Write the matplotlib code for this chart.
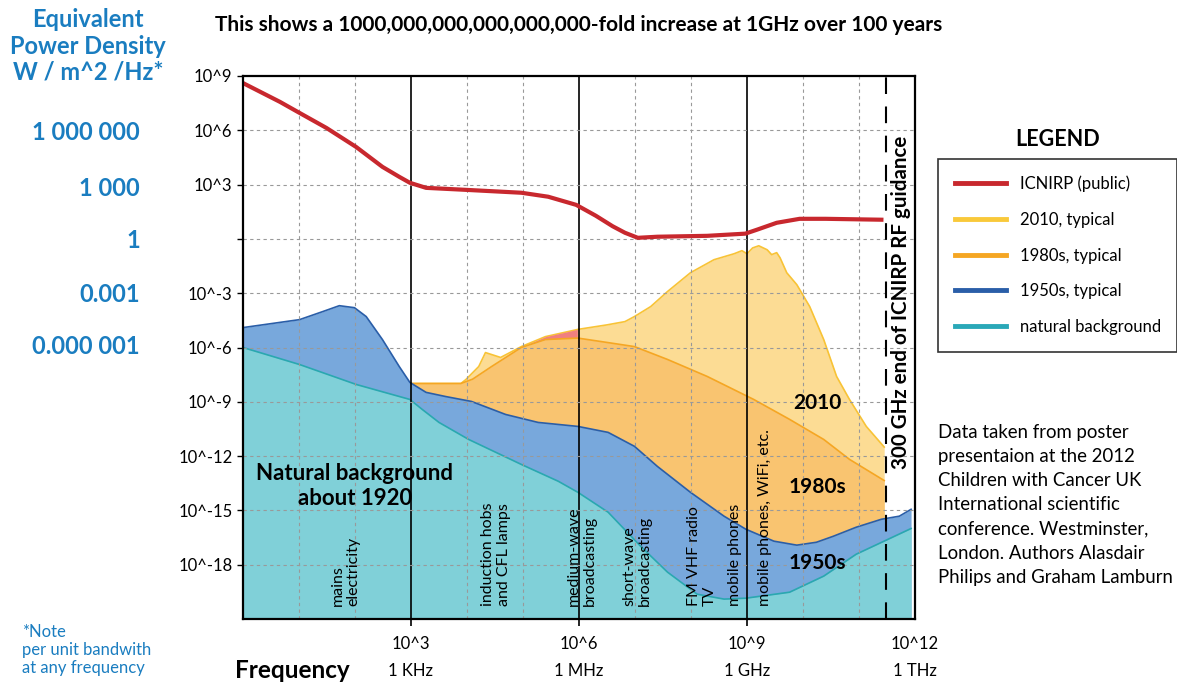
import numpy as np
import matplotlib
matplotlib.use("Agg")
import matplotlib.pyplot as plt
from matplotlib.lines import Line2D
from matplotlib.transforms import blended_transform_factory

plt.rcParams['font.family'] = ['Lato', 'DejaVu Sans']

# values are log10 of frequency (Hz) and log10 of power density (W/m^2/Hz)
icnirp_x = [0, 0.66, 1.01, 1.49, 2.02, 2.49, 2.79, 2.98, 3.27, 3.98, 4.97, 5.45, 5.95, 6.3,
            6.6, 6.82, 7.05, 7.4, 8.29, 8.97, 9.18, 9.53, 9.94, 10.4, 11.4]
icnirp_y = [8.61, 7.57, 6.96, 6.13, 5.08, 3.98, 3.43, 3.1, 2.82, 2.71, 2.55, 2.33, 1.88, 1.28,
            0.7, 0.34, 0.06, 0.12, 0.17, 0.29, 0.51, 0.89, 1.11, 1.11, 1.06]

y2010_x = [2.98, 3.89, 3.98, 4.21, 4.33, 4.45, 4.6, 4.97, 5.4, 5.98, 6.5, 6.82, 6.99, 7.28, 7.58,
           7.99, 8.41, 8.77, 8.91, 9.0, 9.1, 9.21, 9.36, 9.44, 9.53, 9.59, 9.71, 9.89, 10.12,
           10.37, 10.6, 10.83, 11.13, 11.45]
y2010_y = [-7.99, -7.99, -7.77, -7.05, -6.28, -6.4, -6.55, -5.95, -5.4, -5.0, -4.75, -4.57, -4.29,
           -3.74, -2.91, -1.87, -1.15, -0.82, -0.65, -0.82, -0.5, -0.38, -0.6, -0.87, -0.76, -1.04,
           -1.87, -2.53, -3.74, -5.56, -7.6, -8.87, -10.36, -11.5]

y1980_x = [2.98, 3.89, 4.1, 4.44, 4.97, 5.4, 5.98, 6.52, 6.99, 7.58, 8.29, 9.12, 9.76, 10.37, 10.83, 11.45]
y1980_y = [-7.99, -7.99, -7.75, -7.05, -6.0, -5.56, -5.48, -5.73, -5.95, -6.66, -7.6, -8.87, -9.97,
           -11.08, -12.18, -13.35]

y1950_x = [0, 1.01, 1.42, 1.72, 1.99, 2.2, 2.49, 2.79, 2.98, 3.27, 3.62, 4.08, 4.69, 5.27, 5.98,
           6.52, 6.99, 7.4, 7.99, 8.59, 8.98, 9.48, 9.89, 10.24, 10.54, 10.95, 11.4, 11.72, 11.93]
y1950_y = [-4.9, -4.46, -4.02, -3.69, -3.8, -4.29, -5.56, -7.05, -7.93, -8.48, -8.71, -8.98, -9.7,
           -10.14, -10.36, -10.69, -11.46, -12.57, -14.0, -15.32, -16.04, -16.7, -16.92, -16.76,
           -16.43, -15.93, -15.49, -15.32, -14.94]

natural_x = [0, 1.01, 2.02, 2.98, 3.2, 3.5, 4.03, 4.97, 5.63, 5.98, 6.52, 7.1, 7.58, 8.11, 8.59,
             8.98, 9.76, 10.37, 10.95, 11.93]
natural_y = [-6.0, -6.94, -8.04, -8.87, -9.42, -10.14, -11.08, -12.46, -13.39, -14.0, -15.1, -16.98,
             -18.41, -19.63, -19.9, -19.85, -19.52, -18.63, -17.42, -16.0]

ytick_exp = [9, 6, 3, 0, -3, -6, -9, -12, -15, -18]
ytick_labels = ['10^9', '10^6', '10^3', '', '10^-3', '10^-6', '10^-9', '10^-12', '10^-15', '10^-18']
xtick_exp = [3, 6, 9, 12]
xtick_labels = ['10^3', '10^6', '10^9', '10^12']
xunit_labels = ['1 KHz', '1 MHz', '1 GHz', '1 THz']
blue_values = ['1 000 000', '1 000', '1', '0.001', '0.000 001']

W, H = 1177, 683
def fx(px):
    return px / W
def fy(py):
    return 1 - py / H

def p(a):
    return 10.0 ** np.array(a, dtype=float)

blue = '#1a7dc0'
fig = plt.figure(figsize=(11.77, 6.83), dpi=100)
ax = fig.add_axes([fx(243), fy(619), (915 - 243) / W, (619 - 76) / H])
ax.set_xscale('log')
ax.set_yscale('log')

bottom = 1e-21
# 2010 area (back)
ax.fill_between(p(y2010_x), p(y2010_y), bottom, color='#fcdc94', zorder=1, lw=0)
ax.plot(p(y2010_x), p(y2010_y), color='#f8c336', lw=1.2, zorder=1.1)
# pinkish overlap patch
ax.fill_between(p([5.1, 5.4, 5.97]), p([-5.8, -5.4, -5.0]), p([-5.85, -5.56, -5.48]),
                color='#f08080', lw=0, zorder=1.2)
# 1980s
ax.fill_between(p(y1980_x), p(y1980_y), bottom, color='#f9c470', zorder=2, lw=0)
ax.plot(p(y1980_x), p(y1980_y), color='#f5a623', lw=1.2, zorder=2.1)
# 1950s
ax.fill_between(p(y1950_x), p(y1950_y), bottom, color='#78a8dc', zorder=3, lw=0)
ax.plot(p(y1950_x), p(y1950_y), color='#2a5ea8', lw=1.2, zorder=3.1)
# natural background
ax.fill_between(p(natural_x), p(natural_y), bottom, color='#80d0d8', zorder=4, lw=0)
ax.plot(p(natural_x), p(natural_y), color='#2aa8b0', lw=1.2, zorder=4.1)
# ICNIRP
ax.plot(p(icnirp_x), p(icnirp_y), color='#c8282e', lw=3, zorder=6, solid_joinstyle='round')

# grid
for e in range(1, 12):
    if e in (3, 6, 9):
        ax.axvline(10.0 ** e, color='black', lw=1.2, zorder=5)
    else:
        ax.axvline(10.0 ** e, color='#999999', lw=0.8, ls=(0, (3, 3)), zorder=5)
for e in range(-18, 9, 3):
    ax.axhline(10.0 ** e, color='#999999', lw=0.8, ls=(0, (3, 3)), zorder=5)
ax.axvline(3e11, color='black', lw=1.5, ls=(0, (8, 6)), zorder=5)

ax.set_xlim(1, 1e12)
ax.set_ylim(1e-21, 1e9)
ax.minorticks_off()
ax.set_yticks(p(ytick_exp))
ax.set_yticklabels(ytick_labels, fontsize=12)
ax.tick_params(axis='y', length=4.5, width=1, pad=3)
ax.set_xticks(p(xtick_exp))
ax.set_xticklabels(xtick_labels, fontsize=12)
ax.tick_params(axis='x', length=5, width=1.2, pad=7)
ax.xaxis.get_major_ticks()[3].tick1line.set_visible(False)
for s in ax.spines.values():
    s.set_linewidth(1.6)
    s.set_zorder(7)

# unit labels under ticks
tr = blended_transform_factory(ax.transData, fig.transFigure)
for e, lab in zip(xtick_exp, xunit_labels):
    ax.text(10.0 ** e, fy(671), lab, transform=tr, ha='center', va='center', fontsize=12)

# in-plot annotations
fig.text(fx(355), fy(486), 'Natural background\nabout 1920', ha='center', va='center',
         fontsize=16, fontweight='bold', linespacing=1.2)
fig.text(fx(817), fy(403), '2010', ha='center', va='center', fontsize=15, fontweight='bold')
fig.text(fx(817), fy(487), '1980s', ha='center', va='center', fontsize=15, fontweight='bold')
fig.text(fx(817), fy(563), '1950s', ha='center', va='center', fontsize=15, fontweight='bold')
fig.text(fx(901), fy(302), '300 GHz end of ICNIRP RF guidance', rotation=90, ha='center', va='center',
         fontsize=14.8, fontweight='bold')

band_labels = [(346, 'mains\nelectricity'), (496, 'induction hobs\nand CFL lamps'),
               (582, 'medium-wave\nbroadcasting'), (637, 'short-wave\nbroadcasting'),
               (702, 'FM VHF radio\nTV'), (735, 'mobile phones'), (765, 'mobile phones, WiFi, etc.')]
for x, lab in band_labels:
    fig.text(fx(x), fy(606), lab, rotation=90, ha='center', va='bottom', multialignment='left',
             fontsize=11.5, linespacing=1.15, zorder=8)

# title and side texts
fig.text(fx(579), fy(25), 'This shows a 1000,000,000,000,000,000-fold increase at 1GHz over 100 years',
         ha='center', va='center', fontsize=15, fontweight='bold')
fig.text(fx(88), fy(46), 'Equivalent\nPower Density\nW / m^2 /Hz*', ha='center', va='center',
         fontsize=17, fontweight='bold', color=blue, linespacing=1.17)
for py, lab in zip([133, 188, 240, 295, 347], blue_values):
    fig.text(fx(140), fy(py), lab, ha='right', va='center', fontsize=17, fontweight='bold', color=blue)
fig.text(fx(22), fy(650), '*Note\nper unit bandwith\nat any frequency', ha='left', va='center',
         fontsize=12, color=blue, linespacing=1.15)
fig.text(fx(235), fy(670), 'Frequency', ha='left', va='center', fontsize=17.5, fontweight='bold')
fig.text(fx(938), fy(505), 'Data taken from poster\npresentaion at the 2012\nChildren with Cancer UK\n'
         'International scientific\nconference. Westminster,\nLondon. Authors Alasdair\nPhilips and Graham Lamburn',
         ha='left', va='center', fontsize=13.4, linespacing=1.52)

# legend
fig.text(fx(1058), fy(139), 'LEGEND', ha='center', va='center', fontsize=15.5, fontweight='bold')
handles = [Line2D([], [], color=c, lw=3.5) for c in ['#c8282e', '#f9c93a', '#f5a623', '#2a5ea8', '#2aa8b8']]
labels = ['ICNIRP (public)', '2010, typical', '1980s, typical', '1950s, typical', 'natural background']
leg = fig.legend(handles, labels, loc='upper left', bbox_to_anchor=(fx(938), fy(159)), frameon=True,
                 fancybox=False, edgecolor='black', fontsize=12, handlelength=3.1, labelspacing=1.18,
                 borderpad=1.0, handletextpad=0.8, borderaxespad=0)
leg.get_frame().set_linewidth(1.2)

fig.savefig('out.png', dpi=100)
